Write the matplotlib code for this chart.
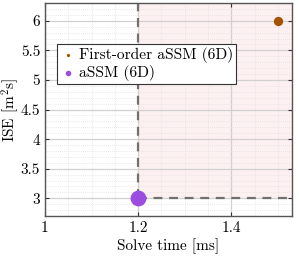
import matplotlib
matplotlib.use("Agg")
import matplotlib.pyplot as plt
from matplotlib.ticker import MultipleLocator

plt.rcParams['mathtext.fontset'] = 'cm'
plt.rcParams['font.family'] = ['cmr10', 'DejaVu Serif']
plt.rcParams['axes.formatter.use_mathtext'] = True

labels = ["First-order aSSM (6D)", "aSSM (6D)"]
solve_time = [1.5, 1.2]
ise = [6.0, 3.0]
colors = ["#A35200", "#9B4DE0"]
sizes = [45, 130]
xtick_vals = [1.0, 1.2, 1.4]
xtick_labels = ["1", "1.2", "1.4"]
ytick_vals = [3, 3.5, 4, 4.5, 5, 5.5, 6]
ytick_labels = ["3", "3.5", "4", "4.5", "5", "5.5", "6"]

ref_x = 1.2
ref_y = 3.0

fig = plt.figure(figsize=(2.99, 2.56), dpi=100)
ax = fig.add_axes([0.1505, 0.156, 0.826, 0.832])
xlim = (1.0, 1.53)
ylim = (2.7, 6.3)
ax.set_xlim(*xlim)
ax.set_ylim(*ylim)

ax.fill_between([ref_x, xlim[1]], ref_y, ylim[1], color="#FDEDEE", alpha=0.8, zorder=0, lw=0)
ax.plot([ref_x, ref_x], [ref_y, ylim[1]], ls=(0, (4, 3)), color="#707070", lw=1.6, zorder=2)
ax.plot([ref_x, xlim[1]], [ref_y, ref_y], ls=(0, (4, 3)), color="#707070", lw=1.6, zorder=2)

for x, y, c, s, lab in zip(solve_time, ise, colors, sizes, labels):
    ax.scatter([x], [y], s=s, color=c, zorder=4, label=lab, linewidths=0)

ax.xaxis.set_minor_locator(MultipleLocator(0.05))
ax.yaxis.set_minor_locator(MultipleLocator(0.1))
ax.set_xticks(xtick_vals)
ax.set_xticklabels(xtick_labels)
ax.set_yticks(ytick_vals)
ax.set_yticklabels(ytick_labels)
ax.grid(which="major", color="#D0D0D0", lw=0.9, zorder=1)
ax.grid(which="minor", color="#E2E2E2", lw=0.6, ls=(0, (1, 1.5)), zorder=1)
ax.set_axisbelow(True)
ax.tick_params(which="both", direction="in", top=True, right=True, labelsize=11,
               colors="#333333", length=3, pad=3.5)
ax.tick_params(which="minor", length=0)
for s in ax.spines.values():
    s.set_color("#555555")
    s.set_linewidth(1.0)
for t in ax.get_xticklabels() + ax.get_yticklabels():
    t.set_color("black")

ax.set_xlabel("Solve time [ms]", fontsize=11, labelpad=3)
ax.set_ylabel(r"ISE [m$^2$s]", fontsize=11)
ax.yaxis.set_label_coords(-0.098, 0.5)

leg = ax.legend(loc="upper left", bbox_to_anchor=(0.048, 0.808), borderaxespad=0,
                fontsize=11.2, markerscale=0.35,
                handletextpad=0.2, borderpad=0.2, labelspacing=0.1, handlelength=1.0,
                fancybox=False, framealpha=1, edgecolor="#333333")
leg.get_frame().set_linewidth(0.8)

fig.savefig("out.png", dpi=100)
